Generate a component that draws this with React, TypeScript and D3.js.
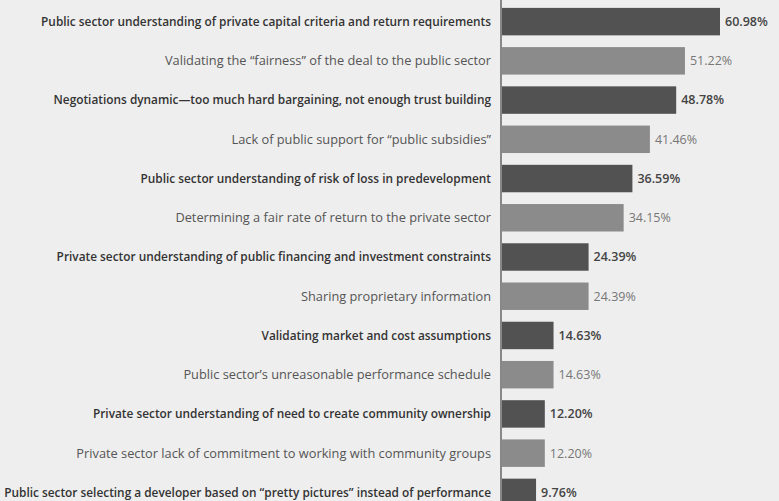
import React, { useRef, useEffect } from 'react';
import * as d3 from 'd3';

const categories = [
  'Public sector understanding of private capital criteria and return requirements',
  'Validating the \u201cfairness\u201d of the deal to the public sector',
  'Negotiations dynamic\u2014too much hard bargaining, not enough trust building',
  'Lack of public support for \u201cpublic subsidies\u201d',
  'Public sector understanding of risk of loss in predevelopment',
  'Determining a fair rate of return to the private sector',
  'Private sector understanding of public financing and investment constraints',
  'Sharing proprietary information',
  'Validating market and cost assumptions',
  'Public sector\u2019s unreasonable performance schedule',
  'Private sector understanding of need to create community ownership',
  'Private sector lack of commitment to working with community groups',
  'Public sector selecting a developer based on \u201cpretty pictures\u201d instead of performance',
];
const values = [60.98, 51.22, 48.78, 41.46, 36.59, 34.15, 24.39, 24.39, 14.63, 14.63, 12.2, 12.2, 9.76];

const W = 779;
const H = 501;

const App = () => {
  const ref = useRef(null);

  useEffect(() => {
    const svg = d3.select(ref.current);
    svg.selectAll('*').remove();

    const x0 = 501;
    const x = d3.scaleLinear().domain([0, 60.98]).range([x0, 720]);
    const y = d3.scaleBand<number>()
      .domain(d3.range(categories.length))
      .range([2, 512])
      .paddingInner(0.3)
      .paddingOuter(0.15);

    svg.append('rect').attr('width', W).attr('height', H).attr('fill', '#eeeeee');

    const rows = svg.selectAll('g.row')
      .data(values)
      .enter()
      .append('g')
      .attr('class', 'row');

    rows.append('rect')
      .attr('x', x0 + 1)
      .attr('y', (d, i) => y(i))
      .attr('width', d => x(d) - x0 - 1)
      .attr('height', y.bandwidth())
      .attr('fill', (d, i) => (i % 2 === 0 ? '#525252' : '#8b8b8b'));

    // category labels, alternating weight like the bars
    rows.append('text')
      .attr('x', 491)
      .attr('y', (d, i) => y(i) + y.bandwidth() / 2)
      .attr('dy', '0.35em')
      .attr('text-anchor', 'end')
      .style('font-family', '"Open Sans", sans-serif')
      .style('font-size', (d, i) => (i % 2 === 0 ? '11.85px' : '12.8px'))
      .style('font-weight', (d, i) => (i % 2 === 0 ? 600 : 400))
      .attr('fill', (d, i) => (i % 2 === 0 ? '#333' : '#555'))
      .text((d, i) => categories[i]);

    rows.append('text')
      .attr('x', d => x(d) + 5)
      .attr('y', (d, i) => y(i) + y.bandwidth() / 2)
      .attr('dy', '0.35em')
      .style('font-family', '"Open Sans", sans-serif')
      .style('font-size', '12.5px')
      .style('font-weight', (d, i) => (i % 2 === 0 ? 600 : 400))
      .attr('fill', (d, i) => (i % 2 === 0 ? '#444' : '#777'))
      .text(d => d.toFixed(2) + '%');

    svg.append('line')
      .attr('x1', x0).attr('x2', x0)
      .attr('y1', 0).attr('y2', H)
      .attr('stroke', '#444')
      .attr('stroke-width', 1.2);
  }, []);

  return (
    <svg
      ref={ref}
      width={W}
      height={H}
      style={{ position: 'absolute', left: 0, top: 0, display: 'block' }}
    />
  );
};

export default App;
